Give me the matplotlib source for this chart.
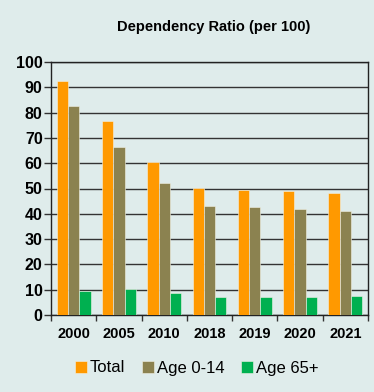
import matplotlib.pyplot as plt
import numpy as np

years = ["2000", "2005", "2010", "2018", "2019", "2020", "2021"]
total = [92.4, 76.5, 60.3, 50.2, 49.3, 48.9, 48.4]
age_0_14 = [82.6, 66.4, 52.0, 43.1, 42.5, 41.8, 41.0]
age_65 = [9.6, 10.1, 8.6, 7.1, 7.1, 7.1, 7.5]

series = [("Total", total, "#FF9900"),
          ("Age 0-14", age_0_14, "#8B8250"),
          ("Age 65+", age_65, "#00B050")]

BG = "#DFECEB"
plt.rcParams['font.family'] = ['Liberation Sans', 'DejaVu Sans']

fig = plt.figure(figsize=(3.74, 3.92), dpi=100, facecolor=BG)
W, H = 374, 392
ax = fig.add_axes([51 / W, 1 - 315 / H, (368 - 51) / W, (315 - 62) / H])
ax.set_facecolor(BG)

x = np.arange(len(years))
bw = 0.25
for i, (name, vals, col) in enumerate(series):
    ax.bar(x + (i - 1) * bw, vals, bw, color=col, label=name,
           edgecolor="#F2F2E6", linewidth=0.4, zorder=3)

ax.set_xlim(-0.5, len(years) - 0.5)
ax.set_ylim(0, 100)
ax.set_yticks(range(0, 101, 10))
ax.yaxis.grid(True, color="#333333", linewidth=1.0, zorder=0)
ax.set_axisbelow(True)

# x ticks at category boundaries, labels centred
ax.set_xticks(np.arange(-0.5, len(years)), minor=False)
ax.set_xticklabels([])
ax.set_xticks(x, minor=True)
ax.set_xticklabels(years, minor=True, fontsize=10.5, fontweight="bold")
ax.tick_params(axis="x", which="minor", length=0, pad=9)
ax.tick_params(axis="x", which="major", length=4, width=1, color="#333333")
ax.tick_params(axis="y", length=5, width=1, color="#333333", pad=1,
               labelsize=11.5)
for lbl in ax.get_yticklabels():
    lbl.set_fontweight("bold")

for s in ax.spines.values():
    s.set_color("#222222")
    s.set_linewidth(1.0)

fig.text(214 / W, 1 - 27.5 / H, "Dependency Ratio (per 100)", ha="center",
         va="center", fontsize=10.5, fontweight="bold")

fig.legend(loc="center", bbox_to_anchor=(197 / W, 1 - 368 / H), ncol=3,
           frameon=False, fontsize=12, handlelength=0.7, handleheight=0.7,
           handletextpad=0.2, columnspacing=1.0)

fig.savefig("out.png", dpi=100, facecolor=BG)
